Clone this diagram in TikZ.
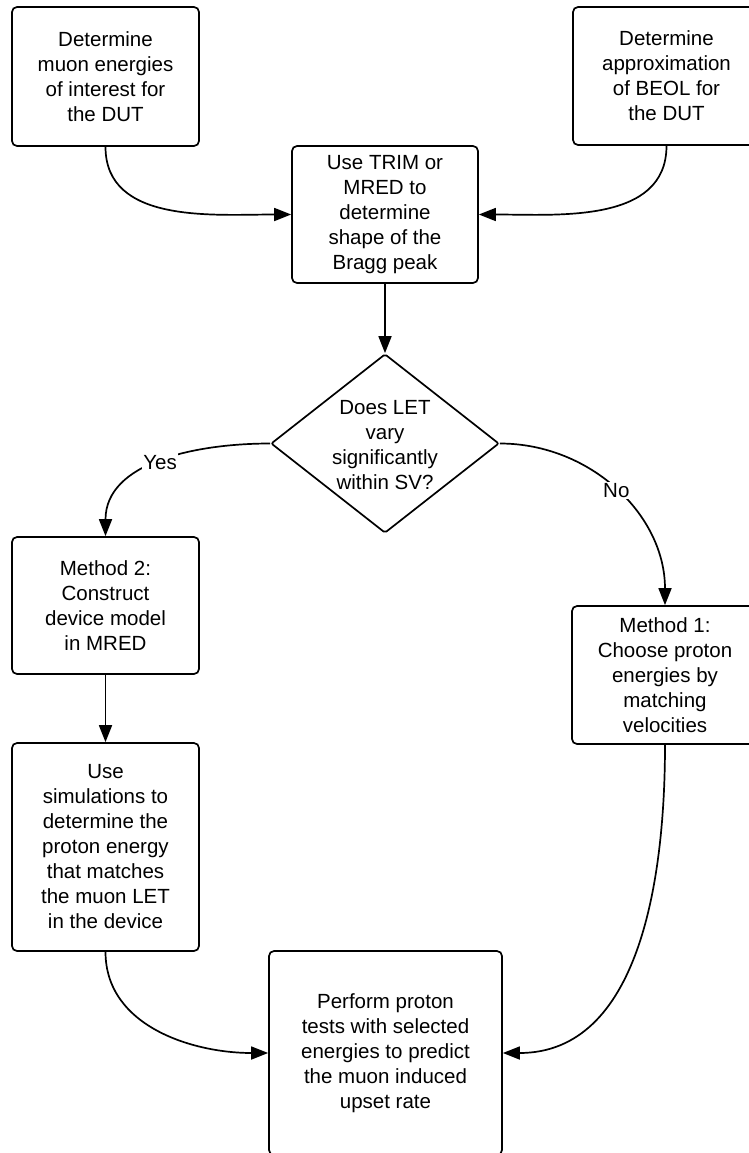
\documentclass[tikz,border=0pt]{standalone}
\usepackage{fontspec}
\setmainfont{Liberation Sans}
\usetikzlibrary{arrows.meta,shapes.geometric}
\tikzset{
  procbox/.style={draw, line width=1.7pt, rounded corners=5pt, align=center, inner sep=0pt,
    font=\fontsize{20.5}{25}\selectfont},
  decision/.style={draw, line width=1.7pt, diamond, inner sep=0pt, rounded corners=2pt},
  dtext/.style={align=center, font=\fontsize{20.5}{25}\selectfont},
  conn/.style={line width=1.7pt, -{Triangle[length=17pt,width=13pt]}},
  lbl/.style={fill=white, inner sep=1.5pt, font=\fontsize{20.5}{25}\selectfont}
}
\begin{document}
\begin{tikzpicture}[x=1pt,y=1pt]
\useasboundingbox (0,0) rectangle (749,-1153);
\clip (0,0) rectangle (749,-1153);
\fill[white] (0,0) rectangle (749,-1153);

\node[procbox, minimum width=187pt, minimum height=139pt] (b1) at (105.5,-76.5)
  {Determine\\muon energies\\of interest for\\the DUT};
\node[procbox, minimum width=187pt, minimum height=138pt] (b2) at (666.5,-76)
  {Determine\\approximation\\of BEOL for\\the DUT};
\node[procbox, minimum width=186pt, minimum height=137pt] (b3) at (385,-214.5)
  {Use TRIM or\\MRED to\\determine\\shape of the\\Bragg peak};
\node[decision, minimum width=228pt, minimum height=179pt] (dia) at (385,-443.5) {};
\node[dtext] (diatxt) at (385,-445) {Does LET\\vary\\significantly\\within SV?};
\node[procbox, minimum width=187pt, minimum height=137pt] (m2) at (105.5,-605.5)
  {Method 2:\\Construct\\device model\\in MRED};
\node[procbox, minimum width=186pt, minimum height=138pt] (m1) at (665,-675)
  {Method 1:\\Choose proton\\energies by\\matching\\velocities};
\node[procbox, minimum width=187pt, minimum height=208pt] (sim) at (105.5,-847)
  {Use\\simulations to\\determine the\\proton energy\\that matches\\the muon LET\\in the device};
\node[procbox, minimum width=233pt, minimum height=204pt] (perf) at (385.5,-1053)
  {Perform proton\\tests with selected\\energies to predict\\the muon induced\\upset rate};

\draw[conn] (b1.south) to[out=-90,in=180] (b3.west);
\draw[conn] (b2.south) to[out=-90,in=0] (b3.east);
\draw[conn] (b3.south) -- (dia.north);
\draw[conn] (dia.west) to[out=180,in=90] node[lbl, pos=0.5] (yes) {Yes} (m2.north);
\draw[conn] (dia.east) to[out=0,in=90] node[lbl, pos=0.5] (no) {No} (m1.north);
\draw[conn] (m2.south) -- (sim.north);
\draw[conn] (sim.south) to[out=-90,in=180] (perf.west);
\draw[conn] (m1.south) to[out=-90,in=0] (perf.east);
\end{tikzpicture}
\end{document}
